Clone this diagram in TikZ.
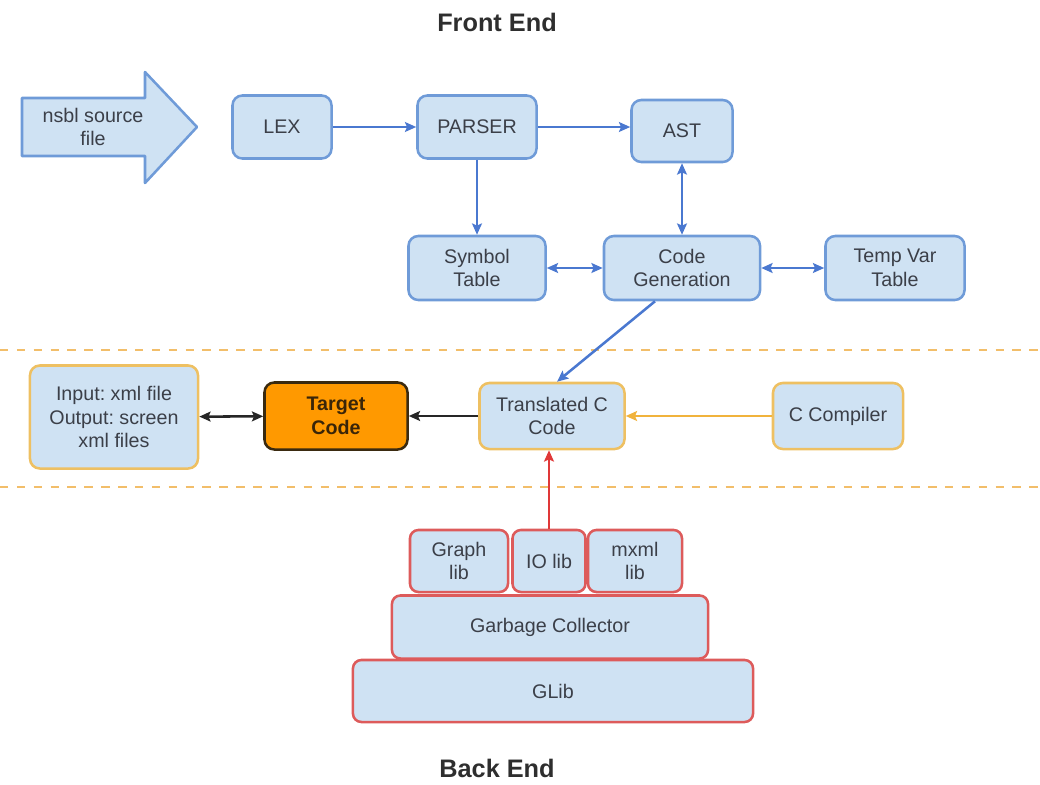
\documentclass[tikz,border=0pt]{standalone}
\usepackage{fontspec}
\setmainfont{Liberation Sans}
\usetikzlibrary{arrows.meta,calc}
\frenchspacing

\definecolor{boxfill}{HTML}{CFE2F3}
\definecolor{blueedge}{HTML}{6F9BD8}
\definecolor{blueline}{HTML}{4A78D0}
\definecolor{orangeedge}{HTML}{EEC062}
\definecolor{orangeline}{HTML}{F1B33C}
\definecolor{rededge}{HTML}{DD5B5B}
\definecolor{redline}{HTML}{E03838}
\definecolor{targetfill}{HTML}{FF9900}
\definecolor{targetedge}{HTML}{3A2A10}
\definecolor{targettext}{HTML}{3A2508}
\definecolor{inktext}{HTML}{3B3F48}
\definecolor{divider}{HTML}{F2BE6A}

\tikzset{
  headtip/.tip={Stealth[length=8pt,width=7pt,inset=1.5pt]},
  box/.style={rectangle, rounded corners=7pt, fill=boxfill, line width=1.8pt,
    align=center, text=inktext, inner sep=2pt,
    font=\fontsize{14}{17}\selectfont},
  bluebox/.style={box, draw=blueedge},
  orangebox/.style={box, draw=orangeedge},
  redbox/.style={box, draw=rededge, rounded corners=6pt},
  targetbox/.style={box, draw=targetedge, fill=targetfill, text=targettext,
    font=\fontsize{14}{17}\bfseries\selectfont},
  title/.style={font=\fontsize{18}{20}\bfseries\selectfont, text=black!82},
  blueflow/.style={draw=blueline, line width=1.8pt},
  orangeflow/.style={draw=orangeline, line width=1.8pt},
  blackflow/.style={draw=black!85, line width=1.8pt},
  redflow/.style={draw=redline, line width=1.8pt},
}

\begin{document}
\begin{tikzpicture}[x=0.025cm, y=-0.025cm]
\useasboundingbox (0,0) rectangle (1040,784);

% section headings
\node[title] (fe) at (497,22) {Front End};
\node[title] (be) at (497,768) {Back End};

% boundaries between the stages
\draw[divider, line width=2pt, dash pattern=on 6pt off 6pt] (0,350) -- (1040,350);
\draw[divider, line width=2pt, dash pattern=on 6pt off 6pt] (0,487) -- (1040,487);

% source file arrow
\draw[fill=boxfill, draw=blueedge, line width=1.8pt, line join=round]
  (22,98) -- (145,98) -- (145,72) -- (197,127) -- (145,183) -- (145,156) -- (22,156) -- cycle;
\node[align=center, text=inktext, font=\fontsize{14}{17}\selectfont] (src) at (93,127) {nsbl source\\file};

% front end
\node[bluebox, minimum width=2.475cm, minimum height=1.575cm] (lex) at (282,127) {LEX};
\node[bluebox, minimum width=2.975cm, minimum height=1.575cm] (parser) at (477,127) {PARSER};
\node[bluebox, minimum width=2.525cm, minimum height=1.55cm] (ast) at (682,131) {AST};
\node[bluebox, minimum width=3.425cm, minimum height=1.6cm] (sym) at (477,268) {Symbol\\Table};
\node[bluebox, minimum width=3.9cm, minimum height=1.6cm] (cg) at (682,268) {Code\\Generation};
\node[bluebox, minimum width=3.475cm, minimum height=1.6cm] (tmp) at (895,268) {Temp Var\\Table};

% middle stage
\node[orangebox, minimum width=4.2cm, minimum height=2.575cm] (io) at (114,417) {Input: xml file\\Output: screen\\xml files};
\node[targetbox, minimum width=3.575cm, minimum height=1.675cm] (target) at (336,416) {Target\\Code};
\node[orangebox, minimum width=3.625cm, minimum height=1.65cm] (tc) at (552,416) {Translated C\\Code};
\node[orangebox, minimum width=3.25cm, minimum height=1.65cm] (cc) at (838,416) {C Compiler};

% back end library stack
\node[redbox, minimum width=2.45cm, minimum height=1.55cm] (graph) at (459,561) {Graph\\lib};
\node[redbox, minimum width=1.825cm, minimum height=1.55cm] (iolib) at (549,561) {IO lib};
\node[redbox, minimum width=2.35cm, minimum height=1.55cm] (mxml) at (635,561) {mxml\\lib};
\node[redbox, minimum width=7.9cm, minimum height=1.575cm] (gc) at (550,627) {Garbage Collector};
\node[redbox, minimum width=10cm, minimum height=1.55cm] (glib) at (553,691) {GLib};

% front end connectors
\draw[blueflow, -{headtip}] (lex) -- (parser);
\draw[blueflow, -{headtip}] (parser.east) -- (ast.west |- parser.east);
\draw[blueflow, -{headtip}] (parser) -- (sym);
\draw[blueflow, {headtip}-{headtip}] (cg) -- (ast);
\draw[blueflow, {headtip}-{headtip}] (sym) -- (cg);
\draw[blueflow, {headtip}-{headtip}] (cg) -- (tmp);
\draw[blueflow, -{headtip}] ($(cg.south)+(-27,0)$) -- ($(tc.north)+(5,0)$);

% middle connectors
\draw[orangeflow, -{headtip}] (cc) -- (tc);
\draw[blackflow, -{headtip}] (tc) -- (target);
\draw[blackflow, {headtip}-{headtip}] (io) -- (target);

% back end connector
\draw[redflow, -{headtip}] (iolib) -- (iolib |- tc.south);
\end{tikzpicture}
\end{document}
